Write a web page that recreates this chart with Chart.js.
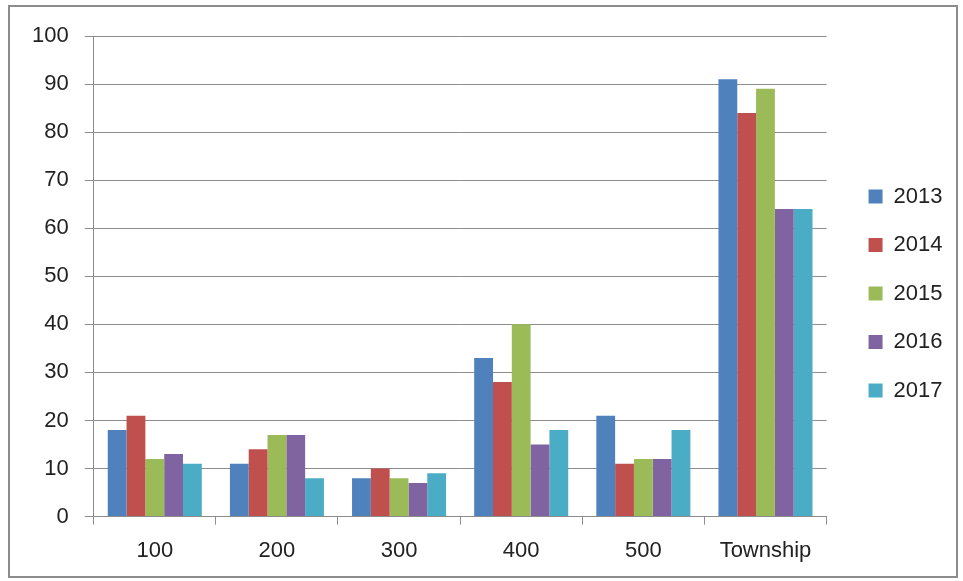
<!DOCTYPE html>
<html><head><meta charset="utf-8">
<script src="https://cdn.jsdelivr.net/npm/chart.js@4"></script>
<style>
html,body{margin:0;padding:0;background:#fff;}
#wrap{position:relative;width:963px;height:581px;}
#frame{position:absolute;left:8px;top:5px;width:950px;height:573px;border:2px solid #8c8c8c;box-sizing:border-box;pointer-events:none;}
canvas{position:absolute;left:0;top:0;}
</style></head>
<body>
<div id="wrap"><canvas id="c" width="963" height="581"></canvas><div id="frame"></div></div>
<script>
const categories = ['100','200','300','400','500','Township'];
const years = ['2013','2014','2015','2016','2017'];
const v2013 = [18,11,8,33,21,91];
const v2014 = [21,14,10,28,11,84];
const v2015 = [12,17,8,40,12,89];
const v2016 = [13,17,7,15,12,64];
const v2017 = [11,8,9,18,18,64];
const yTicks = [0,10,20,30,40,50,60,70,80,90,100];
const colors = ['#4F81BD','#C0504D','#9BBB59','#8064A2','#4BACC6'];
const series = [v2013,v2014,v2015,v2016,v2017];

const font = "'Liberation Sans', 'Open Sans', sans-serif";
const legendShift = {
  id:'legendShift',
  afterLayout(chart){
    const l = chart.legend;
    if(l){ l.left += 15.5; l.right = 963; l.top -= 13; l.bottom -= 13; l.width = l.right - l.left; }
  }
};
new Chart(document.getElementById('c'), {
  type: 'bar',
  data: {
    labels: categories,
    datasets: years.map((y,i)=>({label:y,data:series[i],backgroundColor:colors[i],borderWidth:0,categoryPercentage:0.77,barPercentage:1}))
  },
  plugins:[legendShift],
  options: {
    responsive:false, animation:false,
    devicePixelRatio:1,
    layout:{padding:{left:16,top:36,right:26,bottom:4}},
    plugins:{
      tooltip:{enabled:false},
      legend:{position:'right',align:'center',
        labels:{font:{family:font,size:22},color:'#222',boxWidth:14,boxHeight:14,padding:26.5}}
    },
    scales:{
      x:{grid:{display:true,drawOnChartArea:false,color:'#8c8c8c',tickLength:8,lineWidth:1},
         border:{color:'#8c8c8c'},
         ticks:{font:{family:font,size:22},color:'#222',padding:13}},
      y:{min:0,max:100,afterBuildTicks:(s)=>{s.ticks=yTicks.map(v=>({value:v}));},
         grid:{color:'#8c8c8c',tickLength:9},
         border:{color:'#8c8c8c'},
         ticks:{font:{family:font,size:22},color:'#222',padding:16}}
    }
  }
});
</script>
</body></html>
